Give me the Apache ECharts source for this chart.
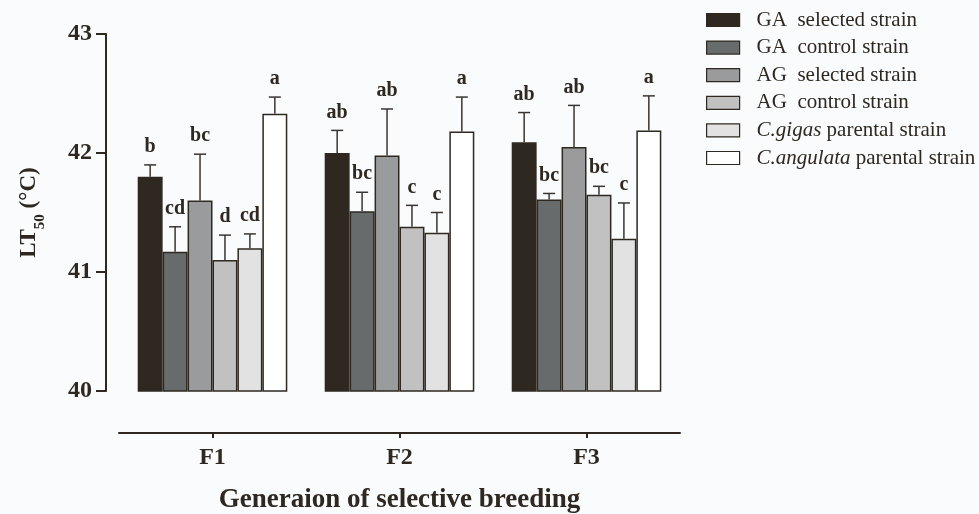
<!DOCTYPE html>
<html lang="en">
<head>
    <meta charset="utf-8" />
    <title>LT50</title>
    <script src="https://cdn.jsdelivr.net/npm/echarts@6/dist/echarts.min.js"></script>
    <style>
        html, body { margin: 0; height: 100%; background: #f9fbfd; }
        #chart { width: 979px; height: 514px; }
    </style>
</head>
<body>
<div id="chart"></div>
<script>
var generations = ['F1', 'F2', 'F3'];
var strains = [
    'GA  selected strain',
    'GA  control strain',
    'AG  selected strain',
    'AG  control strain',
    'C.gigas parental strain',
    'C.angulata parental strain'
];
// mean LT50 per strain, one value per generation
var meanGAsel = [41.80, 42.00, 42.09];
var meanGActl = [41.17, 41.51, 41.61];
var meanAGsel = [41.60, 41.98, 42.05];
var meanAGctl = [41.10, 41.38, 41.65];
var meanGigas = [41.20, 41.33, 41.28];
var meanAngul = [42.33, 42.18, 42.19];
// standard deviation (upper bar only)
var errGAsel = [0.10, 0.19, 0.25];
var errGActl = [0.21, 0.16, 0.05];
var errAGsel = [0.39, 0.39, 0.35];
var errAGctl = [0.21, 0.18, 0.07];
var errGigas = [0.12, 0.17, 0.30];
var errAngul = [0.14, 0.29, 0.29];
// significance letters
var letGAsel = ['b', 'ab', 'ab'];
var letGActl = ['cd', 'bc', 'bc'];
var letAGsel = ['bc', 'ab', 'ab'];
var letAGctl = ['d', 'c', 'bc'];
var letGigas = ['cd', 'c', 'c'];
var letAngul = ['a', 'a', 'a'];

var means = [meanGAsel, meanGActl, meanAGsel, meanAGctl, meanGigas, meanAngul];
var errs = [errGAsel, errGActl, errAGsel, errAGctl, errGigas, errAngul];
var letters = [letGAsel, letGActl, letAGsel, letAGctl, letGigas, letAngul];
var colors = ['#2e2820', '#676b6c', '#999b9d', '#c1c1c1', '#e1e2e1', '#ffffff'];

var ink = '#2e2820';
var serif = '"Liberation Serif", "DejaVu Serif", serif';

var series = [];
strains.forEach(function (name, si) {
    series.push({
        name: name,
        type: 'bar',
        barGap: '0%',
        barCategoryGap: '20%',
        itemStyle: { color: colors[si], borderColor: ink, borderWidth: 1.5 },
        data: means[si]
    });
});
strains.forEach(function (name, si) {
    series.push({
        type: 'custom',
        silent: true,
        z: 5,
        data: means[si].map(function (m, i) { return [i, m, errs[si][i]]; }),
        renderItem: function (params, api) {
            var x = api.value(0), y = api.value(1), e = api.value(2);
            var base = api.coord([x, y]);
            var top = api.coord([x, y + e]);
            var bw = api.size([1, 0])[0] * 0.8 / strains.length;
            var cx = base[0] + (si - 2.5) * bw;
            var st = { stroke: '#3a3530', lineWidth: 1.5 };
            return {
                type: 'group',
                children: [
                    { type: 'line', shape: { x1: cx, y1: base[1], x2: cx, y2: top[1] }, style: st },
                    { type: 'line', shape: { x1: cx - 6, y1: top[1], x2: cx + 6, y2: top[1] }, style: st },
                    {
                        type: 'text',
                        style: {
                            x: cx, y: top[1] - 8,
                            text: letters[si][params.dataIndex],
                            align: 'center', verticalAlign: 'bottom',
                            fill: ink, font: 'bold 20px ' + serif
                        }
                    }
                ]
            };
        }
    });
});

var chart = echarts.init(document.getElementById('chart'));
chart.setOption({
    backgroundColor: '#f9fbfd',
    animation: false,
    grid: { left: 119, right: 299, top: 34, bottom: 123, outerBoundsMode: 'none' },
    legend: {
        data: strains,
        icon: 'rect',
        orient: 'vertical',
        left: 701,
        top: 4.5,
        itemWidth: 33,
        itemHeight: 13,
        itemGap: 6.6,
        itemStyle: { borderColor: ink, borderWidth: 1.2 },
        textStyle: {
            fontFamily: serif, fontSize: 21, lineHeight: 21, color: ink, padding: [0, 0, 0, 12],
            rich: { i: { fontFamily: serif, fontSize: 21, lineHeight: 21, fontStyle: 'italic', color: ink } }
        },
        formatter: function (name) {
            if (name.indexOf('C.gigas') === 0) return '{i|C.gigas} parental strain';
            if (name.indexOf('C.angulata') === 0) return '{i|C.angulata} parental strain';
            return name;
        }
    },
    xAxis: {
        type: 'category',
        data: generations,
        offset: 42,
        axisLine: { lineStyle: { color: ink, width: 2 } },
        axisTick: { show: true, alignWithLabel: true, length: 5, lineStyle: { color: ink, width: 2 } },
        axisLabel: { margin: 13, fontFamily: serif, fontWeight: 'bold', fontSize: 24, color: ink },
        name: 'Generaion of selective breeding',
        nameLocation: 'middle',
        nameGap: 54,
        nameTextStyle: { fontFamily: serif, fontWeight: 'bold', fontSize: 27, color: ink }
    },
    yAxis: {
        type: 'value',
        min: 40,
        max: 43,
        interval: 1,
        offset: 13,
        splitLine: { show: false },
        axisLine: { show: true, lineStyle: { color: ink, width: 2 } },
        axisTick: { show: true, length: 10, lineStyle: { color: ink, width: 2 } },
        axisLabel: { margin: 14, fontFamily: serif, fontWeight: 'bold', fontSize: 24, color: ink },
        name: '{a|LT}{b|50}{a| (°C)}',
        nameLocation: 'middle',
        nameRotate: 90,
        nameGap: 58,
        nameTextStyle: {
            rich: {
                a: { fontFamily: serif, fontWeight: 'bold', fontSize: 23, color: ink, lineHeight: 30, verticalAlign: 'top' },
                b: { fontFamily: serif, fontWeight: 'bold', fontSize: 15, color: ink, lineHeight: 15, verticalAlign: 'bottom' }
            }
        }
    },
    series: series
});
</script>
</body>
</html>
